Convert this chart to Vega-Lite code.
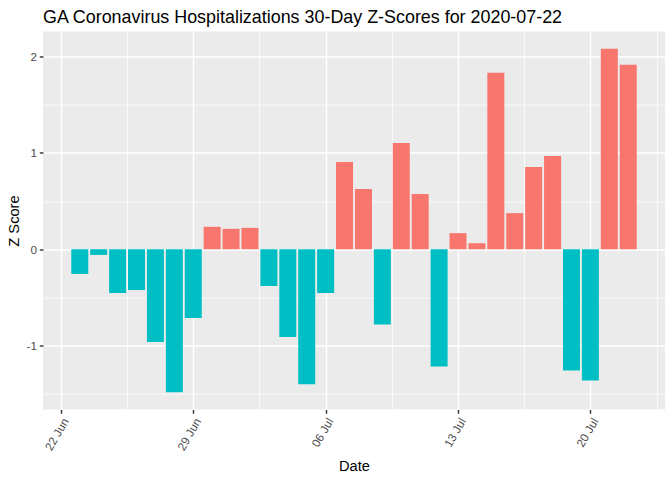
{
  "$schema": "https://vega.github.io/schema/vega-lite/v6.json",
  "width": 622,
  "height": 378,
  "autosize": {"type": "none"},
  "padding": {"left": 43, "top": 31.5, "right": 7, "bottom": 70.5},
  "background": "white",
  "title": {
    "text": "GA Coronavirus Hospitalizations 30-Day Z-Scores for 2020-07-22",
    "anchor": "start",
    "frame": "group",
    "font": "Liberation Sans",
    "fontSize": 17.9,
    "fontWeight": "normal",
    "color": "black",
    "baseline": "alphabetic",
    "offset": 9.5,
    "dy": 19
  },
  "data": {
    "values": [
      {"date": "2020-06-23", "z": -0.257},
      {"date": "2020-06-24", "z": -0.059},
      {"date": "2020-06-25", "z": -0.455},
      {"date": "2020-06-26", "z": -0.424},
      {"date": "2020-06-27", "z": -0.965},
      {"date": "2020-06-28", "z": -1.486},
      {"date": "2020-06-29", "z": -0.715},
      {"date": "2020-06-30", "z": 0.233},
      {"date": "2020-07-01", "z": 0.212},
      {"date": "2020-07-02", "z": 0.222},
      {"date": "2020-07-03", "z": -0.382},
      {"date": "2020-07-04", "z": -0.913},
      {"date": "2020-07-05", "z": -1.403},
      {"date": "2020-07-06", "z": -0.455},
      {"date": "2020-07-07", "z": 0.906},
      {"date": "2020-07-08", "z": 0.625},
      {"date": "2020-07-09", "z": -0.781},
      {"date": "2020-07-10", "z": 1.104},
      {"date": "2020-07-11", "z": 0.573},
      {"date": "2020-07-12", "z": -1.219},
      {"date": "2020-07-13", "z": 0.167},
      {"date": "2020-07-14", "z": 0.0625},
      {"date": "2020-07-15", "z": 1.833},
      {"date": "2020-07-16", "z": 0.375},
      {"date": "2020-07-17", "z": 0.854},
      {"date": "2020-07-18", "z": 0.969},
      {"date": "2020-07-19", "z": -1.26},
      {"date": "2020-07-20", "z": -1.365},
      {"date": "2020-07-21", "z": 2.083},
      {"date": "2020-07-22", "z": 1.917}
    ]
  },
  "mark": {"type": "bar", "size": 17},
  "encoding": {
    "x": {
      "field": "date",
      "type": "temporal",
      "scale": {"type": "utc", "domain": [1592702352000, 1595544048000], "padding": 0, "nice": false},
      "axis": {
        "title": "Date",
        "values": [1592784000000, 1593086400000, 1593388800000, 1593691200000, 1593993600000, 1594296000000, 1594598400000, 1594900800000, 1595203200000, 1595505600000],
        "labelExpr": "utchours(datum.value) == 12 ? '' : utcFormat(datum.value, '%d %b')",
        "labelAngle": -60,
        "labelAlign": "right",
        "labelBaseline": "top",
        "labelPadding": 2.9,
        "labelOverlap": false,
        "labelFlush": false,
        "labelBound": false,
        "tickSize": 3.7,
        "tickOpacity": {"condition": {"test": "utchours(datum.value) == 12", "value": 0}, "value": 1},
        "gridWidth": {"condition": {"test": "utchours(datum.value) == 12", "value": 0.71}, "value": 1.42},
        "titleY": 61,
        "titleBaseline": "alphabetic"
      }
    },
    "y": {
      "field": "z",
      "type": "quantitative",
      "scale": {"domain": [-1.665, 2.262], "nice": false},
      "axis": {
        "title": "Z Score",
        "values": [-1.5, -1, -0.5, 0, 0.5, 1, 1.5, 2],
        "labelExpr": "datum.value % 1 ? '' : toString(datum.value)",
        "labelPadding": 2.9,
        "labelOverlap": false,
        "labelFlush": false,
        "tickSize": 3.7,
        "tickOpacity": {"condition": {"test": "datum.value % 1 != 0", "value": 0}, "value": 1},
        "gridWidth": {"condition": {"test": "datum.value % 1 != 0", "value": 0.71}, "value": 1.42},
        "titleX": -24.5,
        "titleBaseline": "alphabetic"
      }
    },
    "y2": {"datum": 0},
    "color": {"condition": {"test": "datum.z > 0", "value": "#F8766D"}, "value": "#00BFC4"}
  },
  "config": {
    "view": {"fill": "#EBEBEB", "stroke": null},
    "axis": {
      "domain": false,
      "grid": true,
      "gridColor": "#FFFFFF",
      "gridOpacity": 1,
      "labelFont": "Liberation Sans",
      "labelFontSize": 11.7,
      "labelColor": "#4D4D4D",
      "titleFont": "Liberation Sans",
      "titleFontSize": 14.67,
      "titleFontWeight": "normal",
      "titleColor": "#000000",
      "tickColor": "#333333",
      "tickWidth": 1.42
    }
  }
}
